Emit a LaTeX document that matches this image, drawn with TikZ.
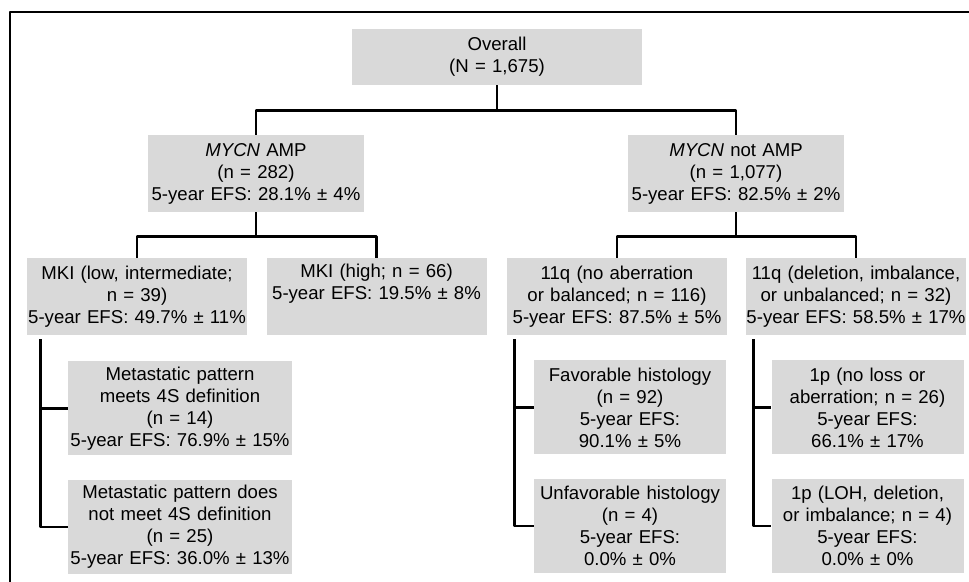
\documentclass[tikz,border=0pt]{standalone}
\usepackage{fontspec}
\setmainfont{Liberation Sans}
\definecolor{boxgray}{gray}{0.85}
\begin{document}
\begin{tikzpicture}[x=0.5pt, y=-0.5pt, line join=round,
	box/.style={fill=boxgray, inner sep=0pt, align=center, font=\fontsize{9.3}{11}\selectfont},
	root/.style={box, text width=145pt, minimum height=28pt},
	split/.style={box, text width=108pt, minimum height=38.5pt},
	branch/.style={box, text width=110pt, minimum height=38.5pt},
	leafl/.style={box, text width=112pt, minimum height=47pt},
	leafr/.style={box, text width=96pt, minimum height=47pt},
	link/.style={line width=1.2pt},
	frame/.style={line width=0.8pt}]
	\useasboundingbox (0,0) rectangle (969,582);
	\draw[frame] (10,582) |- (969,12);
	% boxes
	\node[root] (ovr) at (497,57) {Overall\\(N = 1,675)};
	\node[split] (amp) at (256,173.5) {\textit{MYCN} AMP\\(n = 282)\\5-year EFS: 28.1\% ± 4\%};
	\node[split] (namp) at (736,173.5) {\textit{MYCN} not AMP\\(n = 1,077)\\5-year EFS: 82.5\% ± 2\%};
	\node[branch] (mkil) at (137,296.5) {MKI (low, intermediate;\\n = 39)\\5-year EFS: 49.7\% ± 11\%};
	\node[branch, text height=10pt, text depth=28.5pt] (mkih) at (376.5,296.5) {MKI (high; n = 66)\\5-year EFS: 19.5\% ± 8\%};
	\node[branch] (q11n) at (617,296.5) {11q (no aberration\\or balanced; n = 116)\\5-year EFS: 87.5\% ± 5\%};
	\node[branch] (q11d) at (856,296.5) {11q (deletion, imbalance,\\or unbalanced; n = 32)\\5-year EFS: 58.5\% ± 17\%};
	\node[leafl] (meet) at (180,408.5) {Metastatic pattern\\meets 4S definition\\(n = 14)\\5-year EFS: 76.9\% ± 15\%};
	\node[leafl] (nmeet) at (180,527) {Metastatic pattern does\\not meet 4S definition\\(n = 25)\\5-year EFS: 36.0\% ± 13\%};
	\node[leafr] (fav) at (630,407.5) {Favorable histology\\(n = 92)\\5-year EFS:\\90.1\% ± 5\%};
	\node[leafr] (unf) at (630,526) {Unfavorable histology\\(n = 4)\\5-year EFS:\\0.0\% ± 0\%};
	\node[leafr] (p1n) at (867.5,407.5) {1p (no loss or\\aberration; n = 26)\\5-year EFS:\\66.1\% ± 17\%};
	\node[leafr] (p1l) at (867.5,526) {1p (LOH, deletion,\\or imbalance; n = 4)\\5-year EFS:\\0.0\% ± 0\%};
	% tree lines
	\draw[link] (ovr.south) -- ++(0,25) -| (amp.north);
	\draw[link] (ovr.south) -- ++(0,25) -| (namp.north);
	\draw[link] (amp.south) -- ++(0,24) -| (mkil.north);
	\draw[link] (amp.south) -- ++(0,24) -| (mkih.north);
	\draw[link] (namp.south) -- ++(0,24) -| (q11n.north);
	\draw[link] (namp.south) -- ++(0,24) -| (q11d.north);
	% brackets
	\coordinate (bmkil) at ([shift={(14,4)}]mkil.south west);
	\coordinate (bq11n) at ([shift={(8,4)}]q11n.south west);
	\coordinate (bq11d) at ([shift={(8,4)}]q11d.south west);
	\draw[link] (bmkil) |- (meet.west);
	\draw[link] (bmkil) |- (nmeet.west);
	\draw[link] (bq11n) |- (fav.west);
	\draw[link] (bq11n) |- (unf.west);
	\draw[link] (bq11d) |- (p1n.west);
	\draw[link] (bq11d) |- (p1l.west);
\end{tikzpicture}
\end{document}
